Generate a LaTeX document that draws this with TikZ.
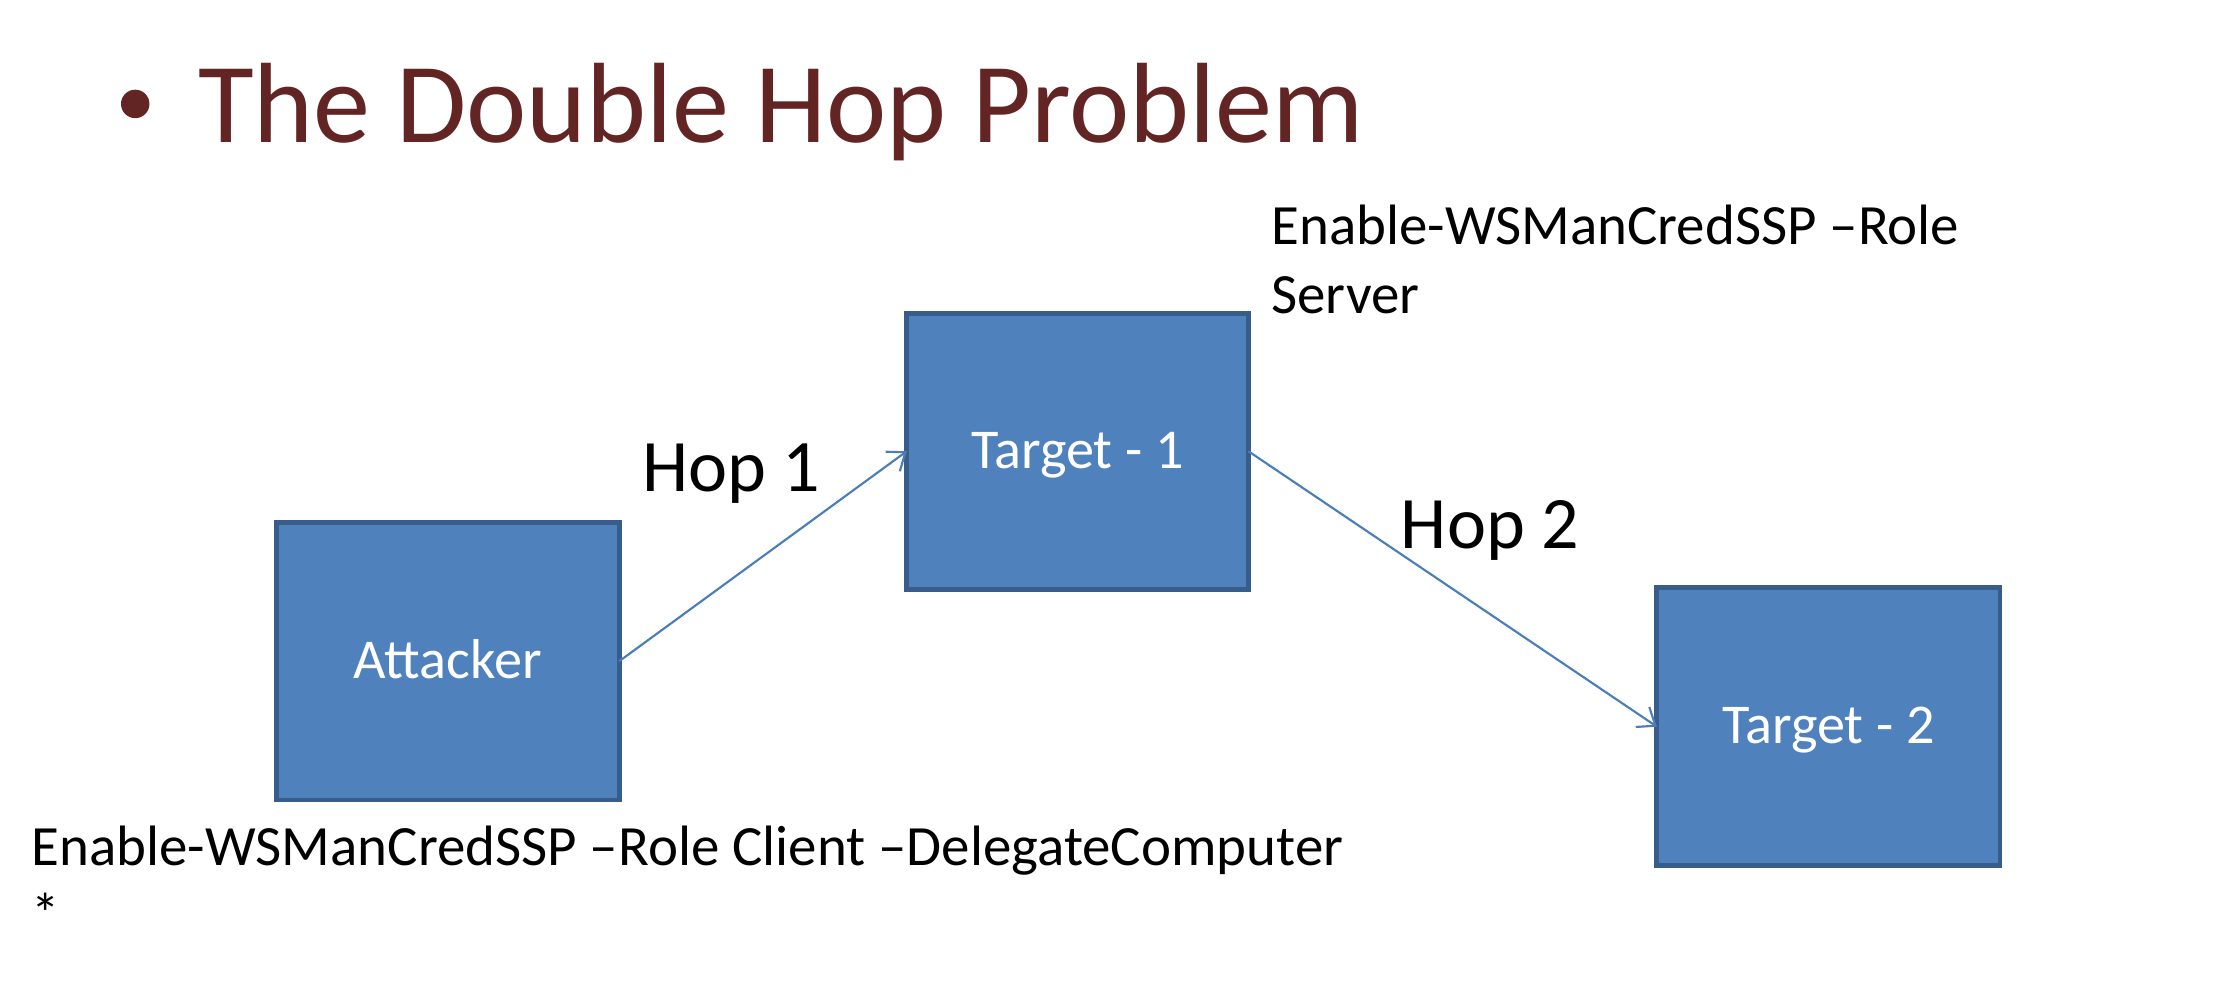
\documentclass[tikz,border=0pt]{standalone}
\usepackage{fontspec}
\setmainfont{Carlito}
\usetikzlibrary{arrows.meta}
\definecolor{boxfill}{HTML}{4F81BD}
\definecolor{boxline}{HTML}{385D8A}
\definecolor{titlered}{HTML}{632523}
\definecolor{arrowblue}{HTML}{4A7EBB}
\begin{document}
\begin{tikzpicture}[x=1pt,y=-1pt,
  hostbox/.style={draw=boxline, fill=boxfill, line width=3.5pt, minimum width=241pt, minimum height=195pt, inner sep=0pt, outer sep=0pt, text=white, font=\fontsize{39.5}{47}\selectfont, text height=24pt, text depth=0pt},
  hoplabel/.style={anchor=base west, inner sep=0pt, font=\fontsize{52}{62}\selectfont},
  cmdtext/.style={anchor=base west, inner sep=0pt, align=left, font=\fontsize{40}{48}\selectfont},
  hoparrow/.style={draw=arrowblue, line width=1.5pt, -{Straight Barb[length=11pt,width=17pt]}}
]
\useasboundingbox[fill=white] (0,0) rectangle (1568,692.7);
\fill[titlered] (95,73) circle (10);
\node[anchor=base west, inner sep=0pt, text=titlered, font=\fontsize{80.2}{96}\selectfont] (title) at (139,100) {The Double Hop Problem};

\node[hostbox] (attacker) at (314.5,464.5) {Attacker};
\node[hostbox, minimum width=240pt, minimum height=194pt] (t1) at (757,317) {Target - 1};
\node[hostbox] (t2) at (1284.5,510.5) {Target - 2};

\draw[hoparrow] (attacker.east) -- (t1.west);
\draw[hoparrow] (t1.east) -- (t2.west);

\node[hoplabel] (hop1) at (451,345) {Hop 1};
\node[hoplabel] (hop2) at (984,385) {Hop 2};

\node[cmdtext] (srvcmd) at (893,220) {Enable-WSManCredSSP –Role\\Server};
\node[cmdtext] (clicmd) at (22,656) {Enable-WSManCredSSP –Role Client –DelegateComputer\\*};
\end{tikzpicture}
\end{document}
